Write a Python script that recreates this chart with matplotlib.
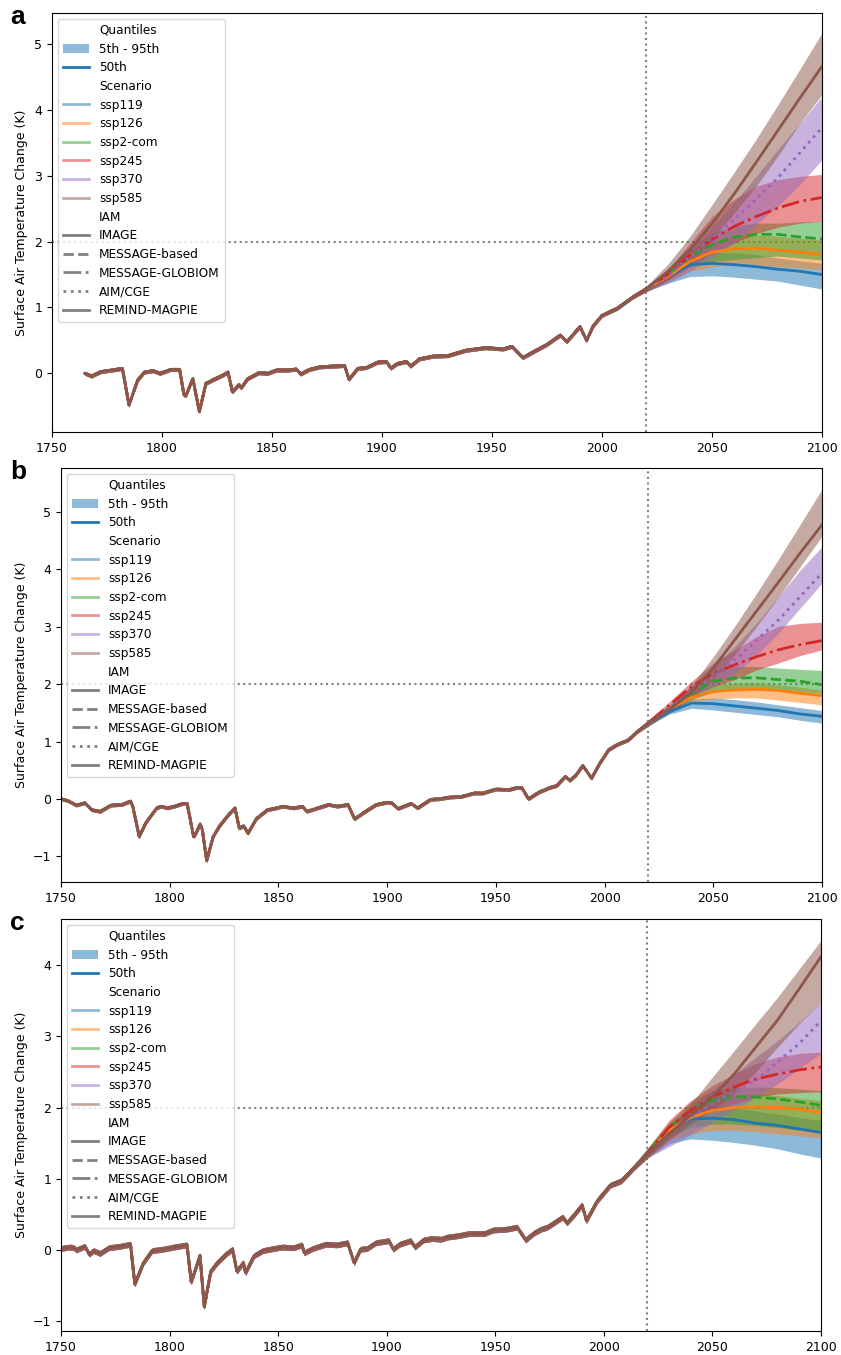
import matplotlib
matplotlib.use("Agg")
import matplotlib.pyplot as plt
from matplotlib.lines import Line2D
from matplotlib.patches import Patch

SCENARIOS = ["ssp119", "ssp126", "ssp2-com", "ssp245", "ssp370", "ssp585"]
SCENARIO_COLORS = ["tab:blue", "tab:orange", "tab:green", "tab:red", "tab:purple", "tab:brown"]
SCENARIO_STYLES = ["-", "-", "--", "-.", ":", "-"]
IAMS = ["IMAGE", "MESSAGE-based", "MESSAGE-GLOBIOM", "AIM/CGE", "REMIND-MAGPIE"]
IAM_STYLES = ["-", "--", "-.", ":", "-"]

PROJ_YEARS = [2020, 2030, 2040, 2050, 2060, 2070, 2080, 2090, 2100]

# ---- panel a ----
A_HIST_YEARS = [1765, 1768, 1772, 1777, 1782, 1785, 1789, 1792, 1796, 1799, 1804, 1808,
                1810, 1811, 1814, 1817, 1820, 1823, 1828, 1830, 1832, 1835, 1836, 1839,
                1844, 1848, 1852, 1857, 1861, 1863, 1867, 1872, 1878, 1883, 1885, 1889,
                1893, 1898, 1902, 1904, 1907, 1911, 1913, 1917, 1923, 1930, 1938, 1947,
                1955, 1959, 1964, 1970, 1975, 1981, 1984, 1990, 1993, 1996, 2000, 2007,
                2014]
A_HIST = [0.00, -0.04, 0.025, 0.05, 0.075, -0.48, -0.10, 0.02, 0.04, 0.00, 0.06, 0.06,
          -0.33, -0.33, -0.08, -0.58, -0.15, -0.10, -0.02, 0.02, -0.28, -0.17, -0.22, -0.08,
          0.01, 0.00, 0.05, 0.05, 0.065, -0.01, 0.06, 0.10, 0.11, 0.12, -0.09, 0.075,
          0.09, 0.17, 0.18, 0.08, 0.15, 0.18, 0.11, 0.22, 0.26, 0.27, 0.35, 0.39,
          0.37, 0.41, 0.24, 0.35, 0.44, 0.58, 0.48, 0.71, 0.50, 0.72, 0.88, 0.99,
          1.16]
A_HIST_SPREAD = 0.03
A_P50 = [
    [1.28, 1.47, 1.65, 1.67, 1.65, 1.62, 1.58, 1.55, 1.50],
    [1.28, 1.47, 1.70, 1.84, 1.89, 1.90, 1.87, 1.84, 1.80],
    [1.28, 1.50, 1.78, 1.95, 2.07, 2.11, 2.11, 2.07, 2.04],
    [1.28, 1.50, 1.80, 2.03, 2.23, 2.38, 2.51, 2.61, 2.67],
    [1.28, 1.47, 1.78, 2.05, 2.33, 2.64, 2.97, 3.35, 3.73],
    [1.28, 1.55, 1.88, 2.27, 2.72, 3.20, 3.69, 4.18, 4.66],
]
A_P05 = [
    [1.24, 1.37, 1.47, 1.48, 1.46, 1.43, 1.40, 1.34, 1.28],
    [1.24, 1.40, 1.55, 1.62, 1.65, 1.65, 1.62, 1.60, 1.57],
    [1.24, 1.42, 1.62, 1.70, 1.73, 1.76, 1.78, 1.75, 1.72],
    [1.24, 1.42, 1.62, 1.82, 1.98, 2.12, 2.22, 2.28, 2.31],
    [1.24, 1.37, 1.55, 1.75, 1.98, 2.26, 2.54, 2.87, 3.24],
    [1.24, 1.42, 1.67, 2.03, 2.43, 2.84, 3.30, 3.80, 4.23],
]
A_P95 = [
    [1.32, 1.55, 1.75, 1.83, 1.83, 1.80, 1.75, 1.71, 1.67],
    [1.32, 1.55, 1.83, 2.00, 2.08, 2.10, 2.08, 2.05, 2.02],
    [1.32, 1.57, 1.90, 2.13, 2.23, 2.28, 2.28, 2.30, 2.31],
    [1.32, 1.57, 1.98, 2.38, 2.64, 2.84, 2.94, 2.99, 3.02],
    [1.32, 1.57, 1.88, 2.23, 2.59, 2.99, 3.40, 3.80, 4.20],
    [1.32, 1.66, 2.08, 2.56, 3.05, 3.55, 4.08, 4.62, 5.17],
]

# ---- panel b ----
B_HIST_YEARS = [1750, 1753, 1757, 1761, 1764, 1768, 1773, 1778, 1782, 1783, 1786, 1789,
                1794, 1796, 1799, 1803, 1806, 1808, 1811, 1812, 1814, 1815, 1817, 1820,
                1823, 1827, 1830, 1832, 1834, 1836, 1840, 1845, 1849, 1852, 1857, 1861,
                1863, 1868, 1873, 1877, 1882, 1885, 1890, 1895, 1900, 1902, 1905, 1911,
                1914, 1920, 1924, 1929, 1934, 1940, 1944, 1950, 1956, 1960, 1962, 1965,
                1970, 1975, 1978, 1982, 1984, 1987, 1990, 1994, 1998, 2002, 2006, 2011,
                2015]
B_HIST = [0.00, -0.03, -0.11, -0.07, -0.19, -0.22, -0.11, -0.10, -0.04, -0.13, -0.66, -0.42,
          -0.16, -0.13, -0.16, -0.12, -0.08, -0.08, -0.66, -0.61, -0.44, -0.54, -1.08, -0.66,
          -0.47, -0.28, -0.16, -0.51, -0.47, -0.60, -0.34, -0.19, -0.16, -0.13, -0.16, -0.13,
          -0.22, -0.16, -0.10, -0.13, -0.10, -0.35, -0.22, -0.10, -0.06, -0.07, -0.17, -0.08,
          -0.16, -0.01, 0.00, 0.03, 0.04, 0.10, 0.10, 0.17, 0.16, 0.20, 0.19, 0.00,
          0.12, 0.20, 0.23, 0.39, 0.32, 0.42, 0.58, 0.36, 0.63, 0.86, 0.95, 1.03,
          1.17]
B_HIST_SPREAD = 0.03
B_P50 = [
    [1.32, 1.52, 1.67, 1.66, 1.62, 1.58, 1.54, 1.48, 1.44],
    [1.32, 1.57, 1.77, 1.87, 1.90, 1.91, 1.89, 1.84, 1.80],
    [1.32, 1.58, 1.84, 2.05, 2.11, 2.11, 2.08, 2.05, 1.99],
    [1.32, 1.64, 1.96, 2.19, 2.34, 2.48, 2.60, 2.69, 2.76],
    [1.32, 1.58, 1.87, 2.13, 2.43, 2.77, 3.12, 3.53, 3.94],
    [1.32, 1.56, 1.86, 2.28, 2.78, 3.28, 3.78, 4.29, 4.78],
]
B_P05 = [
    [1.27, 1.48, 1.58, 1.55, 1.51, 1.47, 1.43, 1.37, 1.32],
    [1.27, 1.52, 1.70, 1.74, 1.76, 1.76, 1.72, 1.68, 1.64],
    [1.27, 1.52, 1.73, 1.87, 1.90, 1.90, 1.90, 1.87, 1.84],
    [1.27, 1.55, 1.81, 1.96, 2.08, 2.25, 2.37, 2.50, 2.60],
    [1.27, 1.52, 1.76, 1.96, 2.19, 2.51, 2.89, 3.33, 3.76],
    [1.27, 1.50, 1.76, 2.08, 2.52, 3.01, 3.52, 4.05, 4.58],
]
B_P95 = [
    [1.37, 1.58, 1.74, 1.76, 1.73, 1.69, 1.64, 1.59, 1.54],
    [1.37, 1.62, 1.84, 1.99, 2.02, 2.02, 1.99, 1.95, 1.90],
    [1.37, 1.64, 1.96, 2.22, 2.31, 2.31, 2.28, 2.26, 2.24],
    [1.37, 1.70, 2.05, 2.37, 2.60, 2.83, 3.01, 3.06, 3.08],
    [1.37, 1.64, 1.96, 2.31, 2.66, 3.07, 3.53, 3.99, 4.40],
    [1.37, 1.62, 1.98, 2.48, 3.02, 3.59, 4.18, 4.79, 5.40],
]

# ---- panel c ----
C_HIST_YEARS = [1750, 1754, 1756, 1757, 1761, 1763, 1765, 1768, 1772, 1777, 1782, 1784,
                1788, 1792, 1797, 1802, 1808, 1810, 1812, 1814, 1816, 1819, 1822, 1826,
                1829, 1831, 1834, 1835, 1839, 1843, 1848, 1852, 1857, 1861, 1862, 1866,
                1872, 1877, 1882, 1885, 1888, 1891, 1895, 1901, 1903, 1906, 1911, 1913,
                1917, 1921, 1925, 1928, 1933, 1938, 1945, 1949, 1955, 1960, 1964, 1968,
                1971, 1974, 1981, 1983, 1986, 1990, 1992, 1997, 2003, 2008, 2014]
C_HIST = [0.02, 0.04, 0.03, 0.00, 0.05, -0.06, -0.01, -0.05, 0.03, 0.05, 0.08, -0.48,
          -0.18, -0.01, 0.01, 0.04, 0.07, -0.45, -0.27, -0.08, -0.80, -0.30, -0.18, -0.06,
          0.01, -0.30, -0.18, -0.32, -0.08, -0.01, 0.02, 0.04, 0.03, 0.07, -0.04, 0.02,
          0.08, 0.07, 0.10, -0.18, 0.01, 0.02, 0.10, 0.13, 0.01, 0.08, 0.13, 0.04,
          0.14, 0.16, 0.15, 0.18, 0.20, 0.23, 0.23, 0.28, 0.29, 0.32, 0.14, 0.24,
          0.29, 0.32, 0.46, 0.38, 0.48, 0.63, 0.41, 0.69, 0.91, 0.97, 1.16]
C_HIST_SPREAD = 0.04
C_P50 = [
    [1.35, 1.68, 1.84, 1.85, 1.83, 1.78, 1.75, 1.70, 1.65],
    [1.35, 1.68, 1.86, 1.96, 2.00, 2.01, 2.00, 1.98, 1.93],
    [1.35, 1.72, 1.96, 2.10, 2.15, 2.15, 2.12, 2.08, 2.03],
    [1.35, 1.72, 1.96, 2.15, 2.29, 2.40, 2.47, 2.53, 2.57],
    [1.35, 1.63, 1.86, 2.05, 2.22, 2.38, 2.64, 2.90, 3.22],
    [1.35, 1.63, 1.89, 2.15, 2.47, 2.85, 3.23, 3.67, 4.12],
]
C_P05 = [
    [1.29, 1.49, 1.56, 1.54, 1.51, 1.47, 1.42, 1.35, 1.29],
    [1.29, 1.54, 1.63, 1.68, 1.68, 1.66, 1.63, 1.60, 1.58],
    [1.29, 1.58, 1.72, 1.77, 1.77, 1.75, 1.72, 1.68, 1.65],
    [1.29, 1.58, 1.82, 1.96, 2.05, 2.15, 2.19, 2.21, 2.22],
    [1.29, 1.45, 1.62, 1.79, 1.96, 2.15, 2.33, 2.55, 2.76],
    [1.29, 1.54, 1.77, 1.96, 2.20, 2.50, 2.85, 3.18, 3.48],
]
C_P95 = [
    [1.42, 1.77, 1.96, 2.03, 2.00, 1.95, 1.91, 1.86, 1.82],
    [1.42, 1.75, 1.96, 2.10, 2.17, 2.19, 2.17, 2.13, 2.10],
    [1.42, 1.79, 2.08, 2.24, 2.28, 2.29, 2.28, 2.26, 2.24],
    [1.42, 1.82, 2.10, 2.31, 2.47, 2.62, 2.71, 2.76, 2.78],
    [1.42, 1.70, 2.00, 2.24, 2.47, 2.71, 2.94, 3.20, 3.48],
    [1.42, 1.72, 2.05, 2.43, 2.80, 3.18, 3.55, 3.95, 4.35],
]

W, H = 841, 1355


def legend_handles():
    blank = Line2D([], [], color="none")
    handles = [blank,
               Patch(facecolor="tab:blue", alpha=0.5),
               Line2D([], [], color="tab:blue", lw=2),
               blank]
    labels = ["Quantiles", "5th - 95th", "50th", "Scenario"]
    for name, color in zip(SCENARIOS, SCENARIO_COLORS):
        handles.append(Line2D([], [], color=color, alpha=0.5, lw=2))
        labels.append(name)
    handles.append(blank)
    labels.append("IAM")
    for name, ls in zip(IAMS, IAM_STYLES):
        handles.append(Line2D([], [], color="grey", ls=ls, lw=2))
        labels.append(name)
    return handles, labels


def draw_panel(box, ylim, hist_years, hist, p05, p50, p95, spread, tag):
    left, top, right, bottom = box
    ax = fig.add_axes([left / W, 1 - bottom / H, (right - left) / W, (bottom - top) / H])

    ax.axvline(2020, color="grey", ls=":", lw=1.5, zorder=1)
    ax.axhline(2, color="grey", ls=":", lw=1.5, zorder=1)

    years = hist_years + PROJ_YEARS
    for i, color in enumerate(SCENARIO_COLORS):
        lo = [v - spread for v in hist] + p05[i]
        hi = [v + spread for v in hist] + p95[i]
        ax.fill_between(years, lo, hi, color=color, alpha=0.5, lw=0)
    for i, (color, ls) in enumerate(zip(SCENARIO_COLORS, SCENARIO_STYLES)):
        ax.plot(years, hist + p50[i], color=color, ls=ls, lw=2)

    ax.set_xlim(1750, 2100)
    ax.set_ylim(*ylim)
    ax.tick_params(labelsize=9)
    ax.set_ylabel("Surface Air Temperature Change (K)", fontsize=9)
    ax.yaxis.set_label_coords((28 - left) / (right - left), 0.5)

    handles, labels = legend_handles()
    ax.legend(handles, labels, loc="upper left", fontsize=8.7, labelspacing=0.47,
              handlelength=2.2)

    fig.text(10 / W, 1 - (top - 8) / H, tag, fontsize=19, fontweight="bold",
             family="Liberation Sans", ha="left", va="top")
    return ax


fig = plt.figure(figsize=(W / 100, H / 100), dpi=100)

draw_panel((52, 13, 822, 432), (-0.89, 5.47), A_HIST_YEARS, A_HIST,
           A_P05, A_P50, A_P95, A_HIST_SPREAD, "a")
draw_panel((61, 468, 822, 882), (-1.45, 5.77), B_HIST_YEARS, B_HIST,
           B_P05, B_P50, B_P95, B_HIST_SPREAD, "b")
draw_panel((61, 919, 821, 1331), (-1.14, 4.65), C_HIST_YEARS, C_HIST,
           C_P05, C_P50, C_P95, C_HIST_SPREAD, "c")

fig.savefig("out.png", dpi=100, facecolor="white")
